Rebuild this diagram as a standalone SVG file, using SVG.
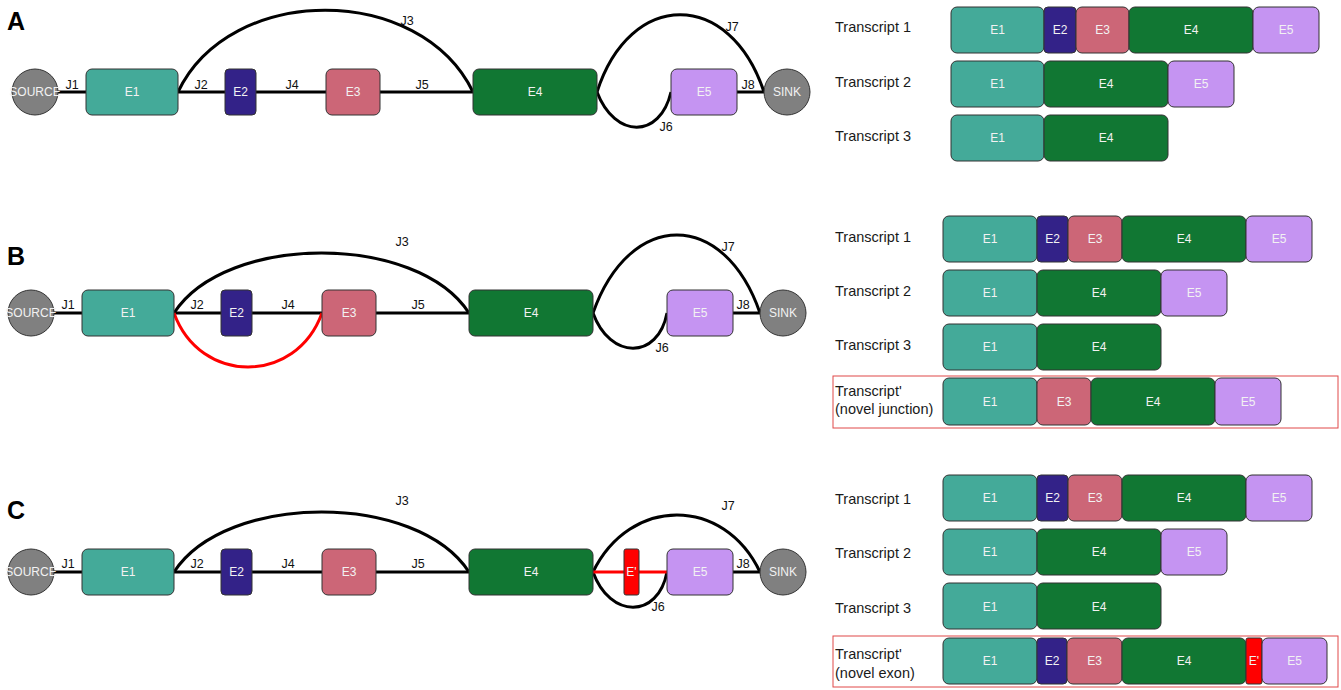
<svg xmlns="http://www.w3.org/2000/svg" width="1341" height="690" viewBox="0 0 1341 690">
<style>
text{font-family:"Liberation Sans",Arial,sans-serif}
.ex{stroke:#333;stroke-width:1}
.e1{fill:#44AA99}.e2{fill:#332288}.e3{fill:#CC6677}.e4{fill:#117733}.e5{fill:#C594F2}.en{fill:#FF0000}
.nd{fill:#808080;stroke:#333;stroke-width:1}
.lb{fill:#f2f2f2;font-size:12px;text-anchor:middle}
.j{fill:#111;font-size:12.5px;text-anchor:middle}
.tr{fill:#1a1a1a;font-size:14.5px}
.pl{font-size:25px;font-weight:bold;fill:#000}
.ed{fill:none;stroke:#000;stroke-width:3}
.red{fill:none;stroke:#FF0000;stroke-width:3}
.box{fill:none;stroke:#E04848;stroke-width:1}
</style>

<!-- Panel labels -->
<text class="pl" x="7" y="30">A</text>
<text class="pl" x="7" y="265">B</text>
<text class="pl" x="7" y="519">C</text>

<!-- ===== Connectors ===== -->
<g id="connectors">
  <!-- A -->
  <path class="ed" d="M58,92 H86 M178,92 H225 M256,92 H326 M380,92 H473 M737,92 H764"/>
  <path class="ed" d="M178,92 C230,-17 420,-17 473,92"/>
  <path class="ed" d="M597,92 C630,-11 730,-11 764,92"/>
  <path class="ed" d="M597,92 C615,139 660,139 671,92"/>
  <!-- B -->
  <path class="ed" d="M54,313 H82 M174,313 H221 M252,313 H322 M376,313 H469 M733,313 H760"/>
  <path class="ed" d="M174,313 C226,233 417,233 469,313"/>
  <path class="ed" d="M593,313 C630,209 724,209 760,313"/>
  <path class="ed" d="M593,313 C610,360 658,360 667,313"/>
  <path class="red" d="M174,313 C200,385 296,385 322,313"/>
  <!-- C -->
  <path class="ed" d="M54,572 H82 M174,572 H221 M252,572 H322 M376,572 H469 M733,572 H760"/>
  <path class="ed" d="M174,572 C226,492 417,492 469,572"/>
  <path class="ed" d="M593,572 C630,496 724,496 760,572"/>
  <path class="ed" d="M593,572 C610,619 658,619 667,572"/>
  <path class="red" d="M593,572 H667"/>
</g>

<!-- Junction labels -->
<g id="junction-labels">
  <text class="j" x="72" y="89">J1</text><text class="j" x="201" y="89">J2</text>
  <text class="j" x="292" y="89">J4</text><text class="j" x="422" y="89">J5</text>
  <text class="j" x="407" y="25">J3</text><text class="j" x="732" y="31">J7</text>
  <text class="j" x="666" y="131">J6</text><text class="j" x="748" y="89">J8</text>

  <text class="j" x="68" y="309">J1</text><text class="j" x="197" y="309">J2</text>
  <text class="j" x="288" y="309">J4</text><text class="j" x="418" y="309">J5</text>
  <text class="j" x="402" y="246">J3</text><text class="j" x="728" y="251">J7</text>
  <text class="j" x="662" y="352">J6</text><text class="j" x="743" y="309">J8</text>

  <text class="j" x="68" y="568">J1</text><text class="j" x="197" y="568">J2</text>
  <text class="j" x="288" y="568">J4</text><text class="j" x="418" y="568">J5</text>
  <text class="j" x="402" y="505">J3</text><text class="j" x="728" y="510">J7</text>
  <text class="j" x="658" y="611">J6</text><text class="j" x="743" y="568">J8</text>
</g>

<!-- ===== Panel A graph nodes ===== -->
<g id="A-source"><circle class="nd" cx="35" cy="92" r="23"/><text class="lb" x="35" y="96">SOURCE</text></g>
<g id="A-E1"><rect class="ex e1" x="86" y="69" width="92" height="46" rx="6"/><text class="lb" x="132" y="96">E1</text></g>
<g id="A-E2"><rect class="ex e2" x="225" y="69" width="31" height="46" rx="4"/><text class="lb" x="240.5" y="96">E2</text></g>
<g id="A-E3"><rect class="ex e3" x="326" y="69" width="54" height="46" rx="6"/><text class="lb" x="353" y="96">E3</text></g>
<g id="A-E4"><rect class="ex e4" x="473" y="69" width="124" height="46" rx="6"/><text class="lb" x="535" y="96">E4</text></g>
<g id="A-E5"><rect class="ex e5" x="671" y="69" width="66" height="46" rx="6"/><text class="lb" x="704" y="96">E5</text></g>
<g id="A-sink"><circle class="nd" cx="787" cy="92" r="23"/><text class="lb" x="787" y="96">SINK</text></g>

<!-- ===== Panel B graph nodes ===== -->
<g id="B-source"><circle class="nd" cx="31" cy="313" r="23"/><text class="lb" x="31" y="317">SOURCE</text></g>
<g id="B-E1"><rect class="ex e1" x="82" y="290" width="92" height="46" rx="6"/><text class="lb" x="128" y="317">E1</text></g>
<g id="B-E2"><rect class="ex e2" x="221" y="290" width="31" height="46" rx="4"/><text class="lb" x="236.5" y="317">E2</text></g>
<g id="B-E3"><rect class="ex e3" x="322" y="290" width="54" height="46" rx="6"/><text class="lb" x="349" y="317">E3</text></g>
<g id="B-E4"><rect class="ex e4" x="469" y="290" width="124" height="46" rx="6"/><text class="lb" x="531" y="317">E4</text></g>
<g id="B-E5"><rect class="ex e5" x="667" y="290" width="66" height="46" rx="6"/><text class="lb" x="700" y="317">E5</text></g>
<g id="B-sink"><circle class="nd" cx="783" cy="313" r="23"/><text class="lb" x="783" y="317">SINK</text></g>

<!-- ===== Panel C graph nodes ===== -->
<g id="C-source"><circle class="nd" cx="31" cy="572" r="23"/><text class="lb" x="31" y="576">SOURCE</text></g>
<g id="C-E1"><rect class="ex e1" x="82" y="549" width="92" height="46" rx="6"/><text class="lb" x="128" y="576">E1</text></g>
<g id="C-E2"><rect class="ex e2" x="221" y="549" width="31" height="46" rx="4"/><text class="lb" x="236.5" y="576">E2</text></g>
<g id="C-E3"><rect class="ex e3" x="322" y="549" width="54" height="46" rx="6"/><text class="lb" x="349" y="576">E3</text></g>
<g id="C-E4"><rect class="ex e4" x="469" y="549" width="124" height="46" rx="6"/><text class="lb" x="531" y="576">E4</text></g>
<g id="C-Enovel"><rect class="ex en" x="624" y="549" width="15" height="46" rx="2"/><text class="lb" x="631.5" y="576">E'</text></g>
<g id="C-E5"><rect class="ex e5" x="667" y="549" width="66" height="46" rx="6"/><text class="lb" x="700" y="576">E5</text></g>
<g id="C-sink"><circle class="nd" cx="783" cy="572" r="23"/><text class="lb" x="783" y="576">SINK</text></g>

<!-- ===== Panel A transcripts ===== -->
<g id="A-t1">
  <text class="tr" x="835" y="32">Transcript 1</text>
  <rect class="ex e1" x="951" y="7" width="93" height="46" rx="6"/><text class="lb" x="997.5" y="34">E1</text>
  <rect class="ex e2" x="1044" y="7" width="32" height="46" rx="4"/><text class="lb" x="1060" y="34">E2</text>
  <rect class="ex e3" x="1076" y="7" width="53" height="46" rx="6"/><text class="lb" x="1102.5" y="34">E3</text>
  <rect class="ex e4" x="1129" y="7" width="124" height="46" rx="6"/><text class="lb" x="1191" y="34">E4</text>
  <rect class="ex e5" x="1253" y="7" width="66" height="46" rx="6"/><text class="lb" x="1286" y="34">E5</text>
</g>
<g id="A-t2">
  <text class="tr" x="835" y="87">Transcript 2</text>
  <rect class="ex e1" x="951" y="61" width="93" height="46" rx="6"/><text class="lb" x="997.5" y="88">E1</text>
  <rect class="ex e4" x="1044" y="61" width="124" height="46" rx="6"/><text class="lb" x="1106" y="88">E4</text>
  <rect class="ex e5" x="1168" y="61" width="66" height="46" rx="6"/><text class="lb" x="1201" y="88">E5</text>
</g>
<g id="A-t3">
  <text class="tr" x="835" y="141">Transcript 3</text>
  <rect class="ex e1" x="951" y="115" width="93" height="46" rx="6"/><text class="lb" x="997.5" y="142">E1</text>
  <rect class="ex e4" x="1044" y="115" width="124" height="46" rx="6"/><text class="lb" x="1106" y="142">E4</text>
</g>

<!-- ===== Panel B transcripts ===== -->
<g id="B-t1">
  <text class="tr" x="835" y="242">Transcript 1</text>
  <rect class="ex e1" x="943" y="216" width="94" height="46" rx="6"/><text class="lb" x="990" y="243">E1</text>
  <rect class="ex e2" x="1037" y="216" width="31" height="46" rx="4"/><text class="lb" x="1052.5" y="243">E2</text>
  <rect class="ex e3" x="1068" y="216" width="54" height="46" rx="6"/><text class="lb" x="1095" y="243">E3</text>
  <rect class="ex e4" x="1122" y="216" width="124" height="46" rx="6"/><text class="lb" x="1184" y="243">E4</text>
  <rect class="ex e5" x="1246" y="216" width="66" height="46" rx="6"/><text class="lb" x="1279" y="243">E5</text>
</g>
<g id="B-t2">
  <text class="tr" x="835" y="296">Transcript 2</text>
  <rect class="ex e1" x="943" y="270" width="94" height="46" rx="6"/><text class="lb" x="990" y="297">E1</text>
  <rect class="ex e4" x="1037" y="270" width="124" height="46" rx="6"/><text class="lb" x="1099" y="297">E4</text>
  <rect class="ex e5" x="1161" y="270" width="66" height="46" rx="6"/><text class="lb" x="1194" y="297">E5</text>
</g>
<g id="B-t3">
  <text class="tr" x="835" y="350">Transcript 3</text>
  <rect class="ex e1" x="943" y="324" width="94" height="46" rx="6"/><text class="lb" x="990" y="351">E1</text>
  <rect class="ex e4" x="1037" y="324" width="124" height="46" rx="6"/><text class="lb" x="1099" y="351">E4</text>
</g>
<g id="B-tnovel">
  <rect class="box" x="833" y="376" width="505" height="52"/>
  <text class="tr" x="835" y="396">Transcript'</text>
  <text class="tr" x="835" y="414">(novel junction)</text>
  <rect class="ex e1" x="943" y="378" width="94" height="47" rx="6"/><text class="lb" x="990" y="406">E1</text>
  <rect class="ex e3" x="1037" y="378" width="54" height="47" rx="6"/><text class="lb" x="1064" y="406">E3</text>
  <rect class="ex e4" x="1091" y="378" width="124" height="47" rx="6"/><text class="lb" x="1153" y="406">E4</text>
  <rect class="ex e5" x="1215" y="378" width="66" height="47" rx="6"/><text class="lb" x="1248" y="406">E5</text>
</g>

<!-- ===== Panel C transcripts ===== -->
<g id="C-t1">
  <text class="tr" x="835" y="504">Transcript 1</text>
  <rect class="ex e1" x="943" y="475" width="94" height="46" rx="6"/><text class="lb" x="990" y="502">E1</text>
  <rect class="ex e2" x="1037" y="475" width="31" height="46" rx="4"/><text class="lb" x="1052.5" y="502">E2</text>
  <rect class="ex e3" x="1068" y="475" width="54" height="46" rx="6"/><text class="lb" x="1095" y="502">E3</text>
  <rect class="ex e4" x="1122" y="475" width="124" height="46" rx="6"/><text class="lb" x="1184" y="502">E4</text>
  <rect class="ex e5" x="1246" y="475" width="66" height="46" rx="6"/><text class="lb" x="1279" y="502">E5</text>
</g>
<g id="C-t2">
  <text class="tr" x="835" y="558">Transcript 2</text>
  <rect class="ex e1" x="943" y="529" width="94" height="46" rx="6"/><text class="lb" x="990" y="556">E1</text>
  <rect class="ex e4" x="1037" y="529" width="124" height="46" rx="6"/><text class="lb" x="1099" y="556">E4</text>
  <rect class="ex e5" x="1161" y="529" width="66" height="46" rx="6"/><text class="lb" x="1194" y="556">E5</text>
</g>
<g id="C-t3">
  <text class="tr" x="835" y="613">Transcript 3</text>
  <rect class="ex e1" x="943" y="583" width="94" height="46" rx="6"/><text class="lb" x="990" y="611">E1</text>
  <rect class="ex e4" x="1037" y="583" width="124" height="46" rx="6"/><text class="lb" x="1099" y="611">E4</text>
</g>
<g id="C-tnovel">
  <rect class="box" x="833" y="636" width="505" height="51"/>
  <text class="tr" x="835" y="659">Transcript'</text>
  <text class="tr" x="835" y="678">(novel exon)</text>
  <rect class="ex e1" x="943" y="638" width="94" height="46" rx="6"/><text class="lb" x="990" y="665">E1</text>
  <rect class="ex e2" x="1037" y="638" width="30" height="46" rx="4"/><text class="lb" x="1052" y="665">E2</text>
  <rect class="ex e3" x="1067" y="638" width="55" height="46" rx="6"/><text class="lb" x="1094.5" y="665">E3</text>
  <rect class="ex e4" x="1122" y="638" width="124" height="46" rx="6"/><text class="lb" x="1184" y="665">E4</text>
  <rect class="ex en" x="1246" y="638" width="16" height="46" rx="2"/><text class="lb" x="1254" y="665">E'</text>
  <rect class="ex e5" x="1262" y="638" width="65" height="46" rx="6"/><text class="lb" x="1294.5" y="665">E5</text>
</g>
</svg>
